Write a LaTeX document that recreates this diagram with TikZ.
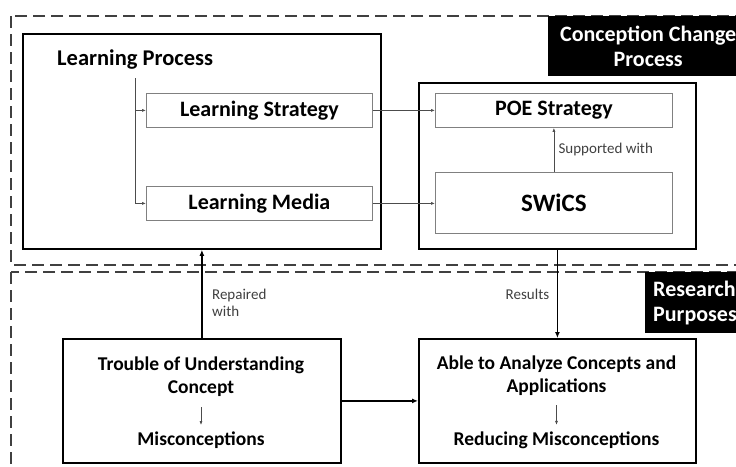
\documentclass[tikz,border=0pt]{standalone}
\usepackage{fontspec}
\setmainfont{Carlito}
\usepackage{xcolor}
\usetikzlibrary{positioning,arrows.meta}

\begin{document}
\begin{tikzpicture}[x=1pt,y=-1pt,
    zone/.style={draw=black!75, line width=1.8pt, dash pattern=on 12pt off 6pt},
    tag/.style={fill=black, text=white, font=\bfseries\fontsize{22}{25}\selectfont, inner sep=0pt, anchor=north west},
    bigbox/.style={draw, line width=1.8pt, anchor=north west, inner sep=0pt},
    subbox/.style={draw=black!50, line width=0.8pt, anchor=north west, inner sep=0pt, font=\bfseries\fontsize{22}{25}\selectfont},
    head/.style={font=\bfseries\fontsize{19.5}{23}\selectfont, align=center},
    note/.style={font=\fontsize{15}{17}\selectfont, text=black!75, align=left},
    thinarr/.style={-{Latex[length=4pt,width=3pt]}, draw=black!70, line width=0.7pt},
    thickarr/.style={-{Latex[length=6pt,width=5pt]}, line width=1.8pt}]
    % cornice
    \clip (0,0) rectangle (736,466);

    % zone tratteggiate
    \draw[zone] (11,16) rectangle (760,265);
    \draw[zone] (11,272) rectangle (760,490);
    \node[tag, minimum width=200, minimum height=60, align=center] (ccp) at (548,16) {Conception Change\\Process};
    \node[tag, minimum width=100, minimum height=61, align=left, text width=92, inner xsep=8pt] (rp) at (645,272) {Research\\Purposes};

    % processo di apprendimento
    \node[bigbox, minimum width=358, minimum height=215] (lp) at (22,33) {};
    \node[head, font=\bfseries\fontsize{22.5}{25}\selectfont, anchor=west, inner sep=0pt] (lpt) at (57,60) {Learning Process};
    \node[subbox, minimum width=226, minimum height=34] (ls) at (146,93) {Learning Strategy};
    \node[subbox, minimum width=226, minimum height=34] (lm) at (146,186) {Learning Media};
    \draw[thinarr] ([yshift=-8pt]lpt.south) |- (ls.west);
    \draw[thinarr] ([yshift=-8pt]lpt.south) |- (lm.west);

    % strategia POE
    \node[bigbox, minimum width=277, minimum height=166] (rb) at (418,82) {};
    \node[subbox, minimum width=237, minimum height=34] (poe) at (435,93) {POE Strategy};
    \node[subbox, minimum width=237, minimum height=61, font=\bfseries\fontsize{25}{28}\selectfont] (sw) at (435,172) {SWiCS};
    \draw[thinarr] (ls.east) -- (ls.east -| poe.west);
    \draw[thinarr] (lm.east) -- (lm.east -| sw.west);
    \draw[thinarr] (sw.north) -- (poe.south) node[note, midway, right, xshift=1pt] {Supported with};

    % risultati
    \node[bigbox, minimum width=278, minimum height=124] (tr) at (62,338) {};
    \node[head] (toc) at (201,377) {Trouble of Understanding\\Concept};
    \node[head] (mis) at (201,440) {Misconceptions};
    \draw[thinarr] ([yshift=-7pt]toc.south) -- ([yshift=3pt]mis.north);

    \node[bigbox, minimum width=277, minimum height=124] (ab) at (418,338) {};
    \node[head] (aca) at (556.5,376) {Able to Analyze Concepts and\\Applications};
    \node[head] (rm) at (556.5,440) {Reducing Misconceptions};
    \draw[thinarr] ([yshift=-6pt]aca.south) -- ([yshift=3pt]rm.north);

    % frecce spesse
    \draw[thickarr] (tr.north) -- (tr.north |- lp.south) node[note, pos=0.4, right, xshift=6pt] {Repaired\\with};
    \draw[thickarr] (rb.south) -- (ab.north) node[note, midway, left, xshift=-4pt] {Results};
    \draw[thickarr] (tr.east) -- (ab.west);
\end{tikzpicture}
\end{document}
